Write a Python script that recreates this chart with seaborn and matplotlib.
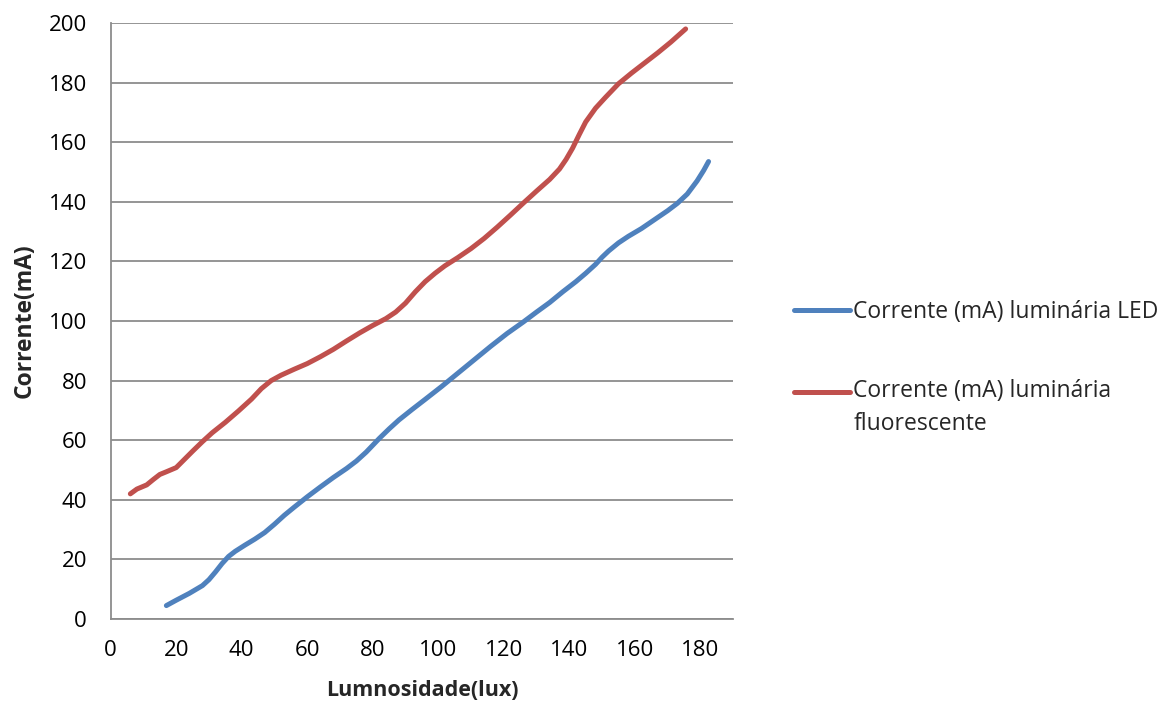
import numpy as np
import pandas as pd
import matplotlib
matplotlib.use("Agg")
import matplotlib.pyplot as plt
import seaborn as sns

# LED series
led_x = [17, 20, 24, 28, 30, 32, 34, 36, 38, 41, 44, 47, 50, 53, 56, 60, 64, 68, 72, 75, 78, 80, 82, 85, 88, 92, 96, 101, 106, 111, 116, 121, 126, 130, 134, 138, 142, 145, 148, 150, 152, 155, 158, 162, 166, 170, 173, 176, 179, 181, 182.5]
led_y = [4.5, 6.3, 8.6, 11.2, 13.2, 15.8, 18.6, 21, 22.7, 24.8, 26.8, 29, 31.8, 34.8, 37.5, 41, 44.3, 47.5, 50.5, 53, 56, 58.3, 60.6, 63.8, 66.8, 70.3, 73.7, 78, 82.5, 87, 91.5, 95.8, 99.7, 103, 106.2, 109.8, 113.2, 116, 119, 121.4, 123.5, 126.2, 128.4, 131, 134, 137, 139.5, 142.6, 147, 150.5, 153.5]

# Fluorescent series
flu_x = [6, 8, 11, 13, 15, 17, 20, 22, 25, 28, 31, 35, 39, 43, 46, 49, 52, 56, 60, 64, 68, 72, 76, 80, 84, 87, 90, 93, 96, 99, 102, 106, 110, 114, 118, 122, 126, 130, 134, 137, 139, 141, 143, 145, 148, 151, 155, 159, 163, 167, 171, 175.5]
flu_y = [42, 43.6, 45, 46.8, 48.5, 49.4, 50.8, 53, 56.3, 59.5, 62.5, 66, 69.8, 73.8, 77.3, 80, 81.8, 83.8, 85.7, 88, 90.5, 93.3, 96, 98.5, 100.8, 103, 106, 109.8, 113.2, 116, 118.5, 121.3, 124.3, 127.7, 131.5, 135.5, 139.6, 143.6, 147.5, 151, 154.2, 158, 162.5, 166.8, 171.4, 175, 179.6, 183.2, 186.6, 190, 193.6, 198]

labels = ["Corrente (mA) luminária LED", "Corrente (mA) luminária\nfluorescente"]
x_ticks = [0, 20, 40, 60, 80, 100, 120, 140, 160, 180]
y_ticks = [0, 20, 40, 60, 80, 100, 120, 140, 160, 180, 200]

df = pd.concat([
    pd.DataFrame({"x": led_x, "y": led_y, "serie": labels[0]}),
    pd.DataFrame({"x": flu_x, "y": flu_y, "serie": labels[1]}),
], ignore_index=True)

sns.set_style("white")
plt.rcParams['font.family'] = ['Open Sans', 'DejaVu Sans']

fig = plt.figure(figsize=(11.7, 7.05), dpi=100)
ax = fig.add_axes([0.0946, 0.122, 0.532, 0.8454])

sns.lineplot(data=df, x="x", y="y", hue="serie", sort=False,
             palette=["#4F81BD", "#C0504D"], linewidth=3.6, ax=ax,
             solid_capstyle="round", solid_joinstyle="round", estimator=None)

ax.set_xlim(0, 190)
ax.set_ylim(0, 200)
ax.set_xticks(x_ticks)
ax.set_yticks(y_ticks)
ax.yaxis.grid(True, color="#8C8C8C", linewidth=1.3)
ax.xaxis.grid(False)
ax.set_axisbelow(True)
for s in ["top", "right"]:
    ax.spines[s].set_visible(False)
for s in ["left", "bottom"]:
    ax.spines[s].set_color("#8C8C8C")
    ax.spines[s].set_linewidth(1.3)
ax.tick_params(axis="both", which="major", labelsize=16, colors="#8C8C8C",
               labelcolor="black", length=7, width=1.3, direction="out")
ax.tick_params(axis="x", pad=8)
ax.tick_params(axis="y", pad=10)

ax.set_xlabel("Lumnosidade(lux)", fontsize=15.5, fontweight="bold", labelpad=14)
ax.set_ylabel("Corrente(mA)", fontsize=16.5, fontweight="bold", labelpad=9)

handles, _ = ax.get_legend_handles_labels()
leg = ax.legend(handles=handles, labels=labels, loc="upper left",
                bbox_to_anchor=(0.671, 0.587), bbox_transform=fig.transFigure,
                frameon=False, fontsize=16.5, handlelength=2.45, handletextpad=0.13,
                labelspacing=2.4, borderaxespad=0)
for t in leg.get_texts():
    t.set_linespacing(1.5)
# align the red handle with the first line of its two-line label
hl = leg.legend_handles[1]
hl.set_ydata(np.asarray(hl.get_ydata()) + 12)

fig.savefig("out.png", dpi=100)
